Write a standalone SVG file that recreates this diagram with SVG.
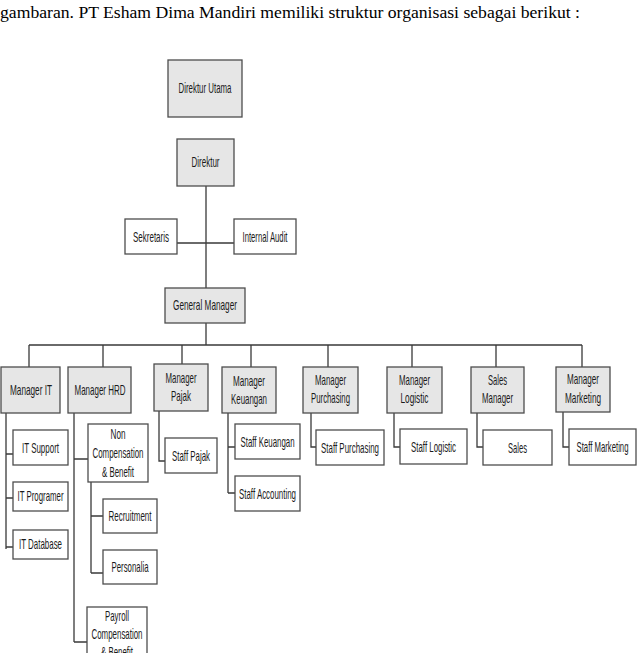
<svg xmlns="http://www.w3.org/2000/svg" width="637" height="653" viewBox="0 0 637 653">
<style>
.bg{fill:#fff}
.g{fill:#e6e6e6;stroke:#4d4d4d;stroke-width:1.3}
.w{fill:#fff;stroke:#4d4d4d;stroke-width:1.3}
.t{font-family:"Liberation Sans",Arial,sans-serif;font-size:15px;fill:#1a1a1a;text-anchor:middle}
.h{font-family:"Liberation Serif","Times New Roman",serif;font-size:16px;fill:#000}
#connectors path{fill:none;stroke:#3a3a3a;stroke-width:1.3}
</style>
<rect class="bg" x="0" y="0" width="637" height="653"/>
<text class="h" x="0" y="18" textLength="580" lengthAdjust="spacingAndGlyphs">gambaran. PT Esham Dima Mandiri memiliki struktur organisasi sebagai berikut :</text>
<g id="connectors">
<path d="M206 186V288M177 243H234M206 323V345M29 345H582"/>
<path d="M29 345V367M103 345V367M182 345V364M251 345V367M328 345V367M412 345V367M496 345V367M582 345V367"/>
<path d="M6 413V549M6 454H13M6 498H13M6 547H13"/>
<path d="M74 413V642M74 459H88M74 642H87M91 482V573M91 516H103M91 573H103"/>
<path d="M159 411V461H165"/>
<path d="M228 413V493M228 447H235M228 493H235"/>
<path d="M311 413V447H316M394 413V447H400M477 413V447H483M563 412V447H569"/>
</g>
<g id="direktur-utama"><rect class="g" x="168" y="60" width="74" height="57"/><text class="t" x="205" y="93" textLength="53" lengthAdjust="spacingAndGlyphs">Direktur Utama</text></g>
<g id="direktur"><rect class="g" x="177" y="139" width="57" height="47"/><text class="t" x="205.5" y="167" textLength="28" lengthAdjust="spacingAndGlyphs">Direktur</text></g>
<g id="sekretaris"><rect class="w" x="125" y="219" width="52" height="35"/><text class="t" x="151" y="242" textLength="36" lengthAdjust="spacingAndGlyphs">Sekretaris</text></g>
<g id="internal-audit"><rect class="w" x="234" y="219" width="62" height="35"/><text class="t" x="265" y="242" textLength="45" lengthAdjust="spacingAndGlyphs">Internal Audit</text></g>
<g id="general-manager"><rect class="g" x="165" y="288" width="80" height="35"/><text class="t" x="205" y="310" textLength="64" lengthAdjust="spacingAndGlyphs">General Manager</text></g>
<g id="manager-it"><rect class="g" x="1" y="367" width="59" height="46"/><text class="t" x="31" y="395" textLength="42" lengthAdjust="spacingAndGlyphs">Manager IT</text></g>
<g id="manager-hrd"><rect class="g" x="68" y="367" width="63" height="46"/><text class="t" x="100" y="395" textLength="51" lengthAdjust="spacingAndGlyphs">Manager HRD</text></g>
<g id="manager-pajak"><rect class="g" x="154" y="364" width="54" height="47"/><text class="t" x="181" y="383" textLength="31" lengthAdjust="spacingAndGlyphs">Manager</text><text class="t" x="181" y="401" textLength="20" lengthAdjust="spacingAndGlyphs">Pajak</text></g>
<g id="manager-keuangan"><rect class="g" x="222" y="367" width="54" height="46"/><text class="t" x="249" y="386" textLength="32" lengthAdjust="spacingAndGlyphs">Manager</text><text class="t" x="249" y="404" textLength="36" lengthAdjust="spacingAndGlyphs">Keuangan</text></g>
<g id="manager-purchasing"><rect class="g" x="303" y="367" width="55" height="46"/><text class="t" x="330.5" y="385" textLength="31" lengthAdjust="spacingAndGlyphs">Manager</text><text class="t" x="330.5" y="403" textLength="39" lengthAdjust="spacingAndGlyphs">Purchasing</text></g>
<g id="manager-logistic"><rect class="g" x="387" y="367" width="55" height="46"/><text class="t" x="414.5" y="385" textLength="31" lengthAdjust="spacingAndGlyphs">Manager</text><text class="t" x="414.5" y="403" textLength="28" lengthAdjust="spacingAndGlyphs">Logistic</text></g>
<g id="sales-manager"><rect class="g" x="471" y="367" width="53" height="46"/><text class="t" x="497.5" y="385" textLength="19" lengthAdjust="spacingAndGlyphs">Sales</text><text class="t" x="497.5" y="403" textLength="31" lengthAdjust="spacingAndGlyphs">Manager</text></g>
<g id="manager-marketing"><rect class="g" x="556" y="367" width="54" height="45"/><text class="t" x="583" y="384" textLength="32" lengthAdjust="spacingAndGlyphs">Manager</text><text class="t" x="583" y="403" textLength="36" lengthAdjust="spacingAndGlyphs">Marketing</text></g>
<g id="it-support"><rect class="w" x="13" y="430" width="55" height="35"/><text class="t" x="40.5" y="453" textLength="37" lengthAdjust="spacingAndGlyphs">IT Support</text></g>
<g id="it-programer"><rect class="w" x="13" y="482" width="55" height="29"/><text class="t" x="40.5" y="501" textLength="46" lengthAdjust="spacingAndGlyphs">IT Programer</text></g>
<g id="it-database"><rect class="w" x="13" y="530" width="55" height="29"/><text class="t" x="40.5" y="549" textLength="43" lengthAdjust="spacingAndGlyphs">IT Database</text></g>
<g id="non-compensation"><rect class="w" x="88" y="424" width="60" height="58"/><text class="t" x="118" y="439" textLength="15" lengthAdjust="spacingAndGlyphs">Non</text><text class="t" x="118" y="458" textLength="51" lengthAdjust="spacingAndGlyphs">Compensation</text><text class="t" x="118" y="477" textLength="32" lengthAdjust="spacingAndGlyphs">&amp; Benefit</text></g>
<g id="recruitment"><rect class="w" x="103" y="499" width="54" height="34"/><text class="t" x="130" y="521" textLength="43" lengthAdjust="spacingAndGlyphs">Recruitment</text></g>
<g id="personalia"><rect class="w" x="103" y="550" width="54" height="34"/><text class="t" x="130" y="572" textLength="37" lengthAdjust="spacingAndGlyphs">Personalia</text></g>
<g id="payroll"><rect class="w" x="87" y="607" width="60" height="60"/><text class="t" x="117" y="621" textLength="24" lengthAdjust="spacingAndGlyphs">Payroll</text><text class="t" x="117" y="639" textLength="51" lengthAdjust="spacingAndGlyphs">Compensation</text><text class="t" x="117" y="657" textLength="32" lengthAdjust="spacingAndGlyphs">&amp; Benefit</text></g>
<g id="staff-pajak"><rect class="w" x="165" y="438" width="52" height="35"/><text class="t" x="191" y="461" textLength="38" lengthAdjust="spacingAndGlyphs">Staff Pajak</text></g>
<g id="staff-keuangan"><rect class="w" x="235" y="424" width="65" height="35"/><text class="t" x="267.5" y="447" textLength="54" lengthAdjust="spacingAndGlyphs">Staff Keuangan</text></g>
<g id="staff-accounting"><rect class="w" x="235" y="476" width="65" height="35"/><text class="t" x="267.5" y="499" textLength="57" lengthAdjust="spacingAndGlyphs">Staff Accounting</text></g>
<g id="staff-purchasing"><rect class="w" x="316" y="430" width="68" height="35"/><text class="t" x="350" y="453" textLength="58" lengthAdjust="spacingAndGlyphs">Staff Purchasing</text></g>
<g id="staff-logistic"><rect class="w" x="400" y="429" width="67" height="35"/><text class="t" x="433.5" y="452" textLength="45" lengthAdjust="spacingAndGlyphs">Staff Logistic</text></g>
<g id="sales"><rect class="w" x="483" y="430" width="69" height="35"/><text class="t" x="517.5" y="453" textLength="19" lengthAdjust="spacingAndGlyphs">Sales</text></g>
<g id="staff-marketing"><rect class="w" x="569" y="429" width="67" height="36"/><text class="t" x="602.5" y="452" textLength="52" lengthAdjust="spacingAndGlyphs">Staff Marketing</text></g>
</svg>
